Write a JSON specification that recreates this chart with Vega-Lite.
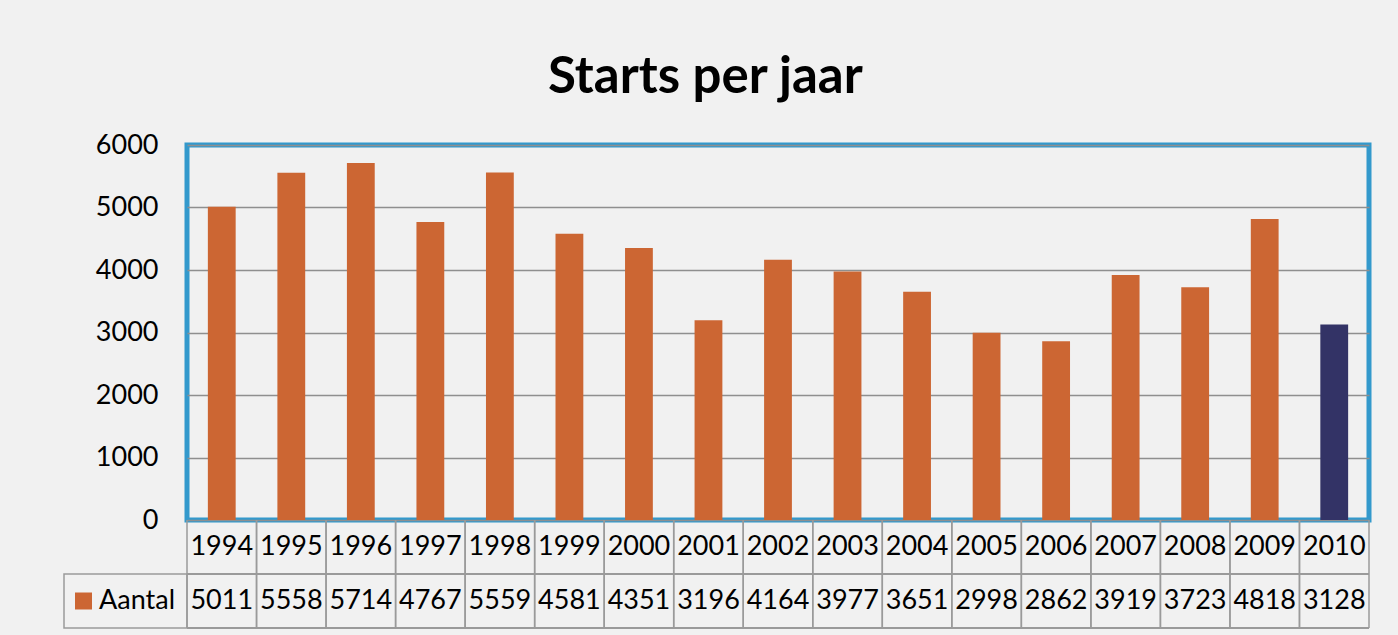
{
  "$schema": "https://vega.github.io/schema/vega-lite/v6.json",
  "background": "#f1f1f1",
  "padding": {"left": 63, "top": 51, "right": 30, "bottom": 9},
  "title": {"text": "Starts per jaar", "fontSize": 51, "font": "Lato", "fontWeight": "bold", "color": "#000000", "anchor": "middle", "offset": 25, "dx": -12},
  "config": {"font": "Lato", "view": {"stroke": null}},
  "datasets": {
    "starts": [
      {"jaar": "1994", "aantal": 5011},
      {"jaar": "1995", "aantal": 5558},
      {"jaar": "1996", "aantal": 5714},
      {"jaar": "1997", "aantal": 4767},
      {"jaar": "1998", "aantal": 5559},
      {"jaar": "1999", "aantal": 4581},
      {"jaar": "2000", "aantal": 4351},
      {"jaar": "2001", "aantal": 3196},
      {"jaar": "2002", "aantal": 4164},
      {"jaar": "2003", "aantal": 3977},
      {"jaar": "2004", "aantal": 3651},
      {"jaar": "2005", "aantal": 2998},
      {"jaar": "2006", "aantal": 2862},
      {"jaar": "2007", "aantal": 3919},
      {"jaar": "2008", "aantal": 3723},
      {"jaar": "2009", "aantal": 4818},
      {"jaar": "2010", "aantal": 3128}
    ]
  },
  "columns": 2,
  "spacing": 0,
  "bounds": "flush",
  "align": "each",
  "concat": [
    {
      "width": 123,
      "height": 375,
      "data": {"values": [{}]},
      "mark": {"type": "text"},
      "encoding": {"text": {"value": ""}}
    },
    {
      "width": 1182,
      "height": 375,
      "data": {"name": "starts"},
      "view": {"stroke": "#3399cc", "strokeWidth": 5},
      "mark": {"type": "bar"},
      "encoding": {
        "x": {"field": "jaar", "type": "nominal", "sort": null, "scale": {"paddingInner": 0.6, "paddingOuter": 0.3}, "axis": null},
        "y": {
          "field": "aantal",
          "type": "quantitative",
          "scale": {"domain": [0, 6000], "nice": false},
          "axis": {
            "values": [0, 1000, 2000, 3000, 4000, 5000, 6000],
            "format": "d",
            "title": null,
            "domain": false,
            "ticks": false,
            "labelPadding": 29,
            "labelFontSize": 27,
            "labelFont": "Lato",
            "labelColor": "#000000",
            "grid": true,
            "gridColor": "#8f8f8f",
            "gridWidth": 1.5
          }
        },
        "color": {"condition": {"test": "datum.jaar === '2010'", "value": "#333366"}, "value": "#cc6633"}
      }
    },
    {
      "width": 123,
      "height": 108,
      "data": {"values": [{"label": "Aantal"}]},
      "layer": [
        {
          "mark": {"type": "rect", "filled": false, "stroke": "#9a9a9a", "strokeWidth": 1.5},
          "encoding": {
            "x": {"datum": 0, "type": "quantitative", "scale": {"domain": [0, 123], "nice": false, "zero": false}, "axis": null},
            "x2": {"datum": 123},
            "y": {"datum": "Aantal", "type": "nominal", "scale": {"domain": ["Jaar", "Aantal"], "paddingInner": 0, "paddingOuter": 0}, "axis": null}
          }
        },
        {
          "mark": {"type": "square", "color": "#cc6633", "size": 289, "opacity": 1, "filled": true},
          "encoding": {
            "x": {"datum": 19.5, "type": "quantitative"},
            "y": {"datum": "Aantal", "type": "nominal"}
          }
        },
        {
          "mark": {"type": "text", "align": "left", "baseline": "middle", "fontSize": 27, "font": "Lato", "color": "#000000"},
          "encoding": {
            "x": {"datum": 35, "type": "quantitative"},
            "y": {"datum": "Aantal", "type": "nominal"},
            "text": {"field": "label"}
          }
        }
      ]
    },
    {
      "width": 1182,
      "height": 108,
      "data": {"name": "starts"},
      "layer": [
        {
          "mark": {"type": "rule", "stroke": "#9a9a9a", "strokeWidth": 1.5},
          "encoding": {
            "x": {"field": "jaar", "type": "nominal", "sort": null, "bandPosition": 0, "scale": {"paddingInner": 0, "paddingOuter": 0}, "axis": null}
          }
        },
        {
          "mark": {"type": "rule", "stroke": "#9a9a9a", "strokeWidth": 1.5},
          "encoding": {
            "x": {"field": "jaar", "type": "nominal", "sort": null, "bandPosition": 1}
          }
        },
        {
          "mark": {"type": "rule", "stroke": "#9a9a9a", "strokeWidth": 1.5},
          "encoding": {
            "y": {"datum": "Aantal", "type": "nominal", "bandPosition": 0, "scale": {"domain": ["Jaar", "Aantal"], "paddingInner": 0, "paddingOuter": 0}, "axis": null}
          }
        },
        {
          "mark": {"type": "rule", "stroke": "#9a9a9a", "strokeWidth": 1.5},
          "encoding": {
            "y": {"datum": "Aantal", "type": "nominal", "bandPosition": 1}
          }
        },
        {
          "mark": {"type": "text", "baseline": "middle", "fontSize": 27, "font": "Lato", "color": "#000000"},
          "encoding": {
            "x": {"field": "jaar", "type": "nominal", "sort": null},
            "y": {"datum": "Jaar", "type": "nominal"},
            "text": {"field": "jaar"}
          }
        },
        {
          "mark": {"type": "text", "baseline": "middle", "fontSize": 27, "font": "Lato", "color": "#000000"},
          "encoding": {
            "x": {"field": "jaar", "type": "nominal", "sort": null},
            "y": {"datum": "Aantal", "type": "nominal"},
            "text": {"field": "aantal"}
          }
        }
      ]
    }
  ]
}
